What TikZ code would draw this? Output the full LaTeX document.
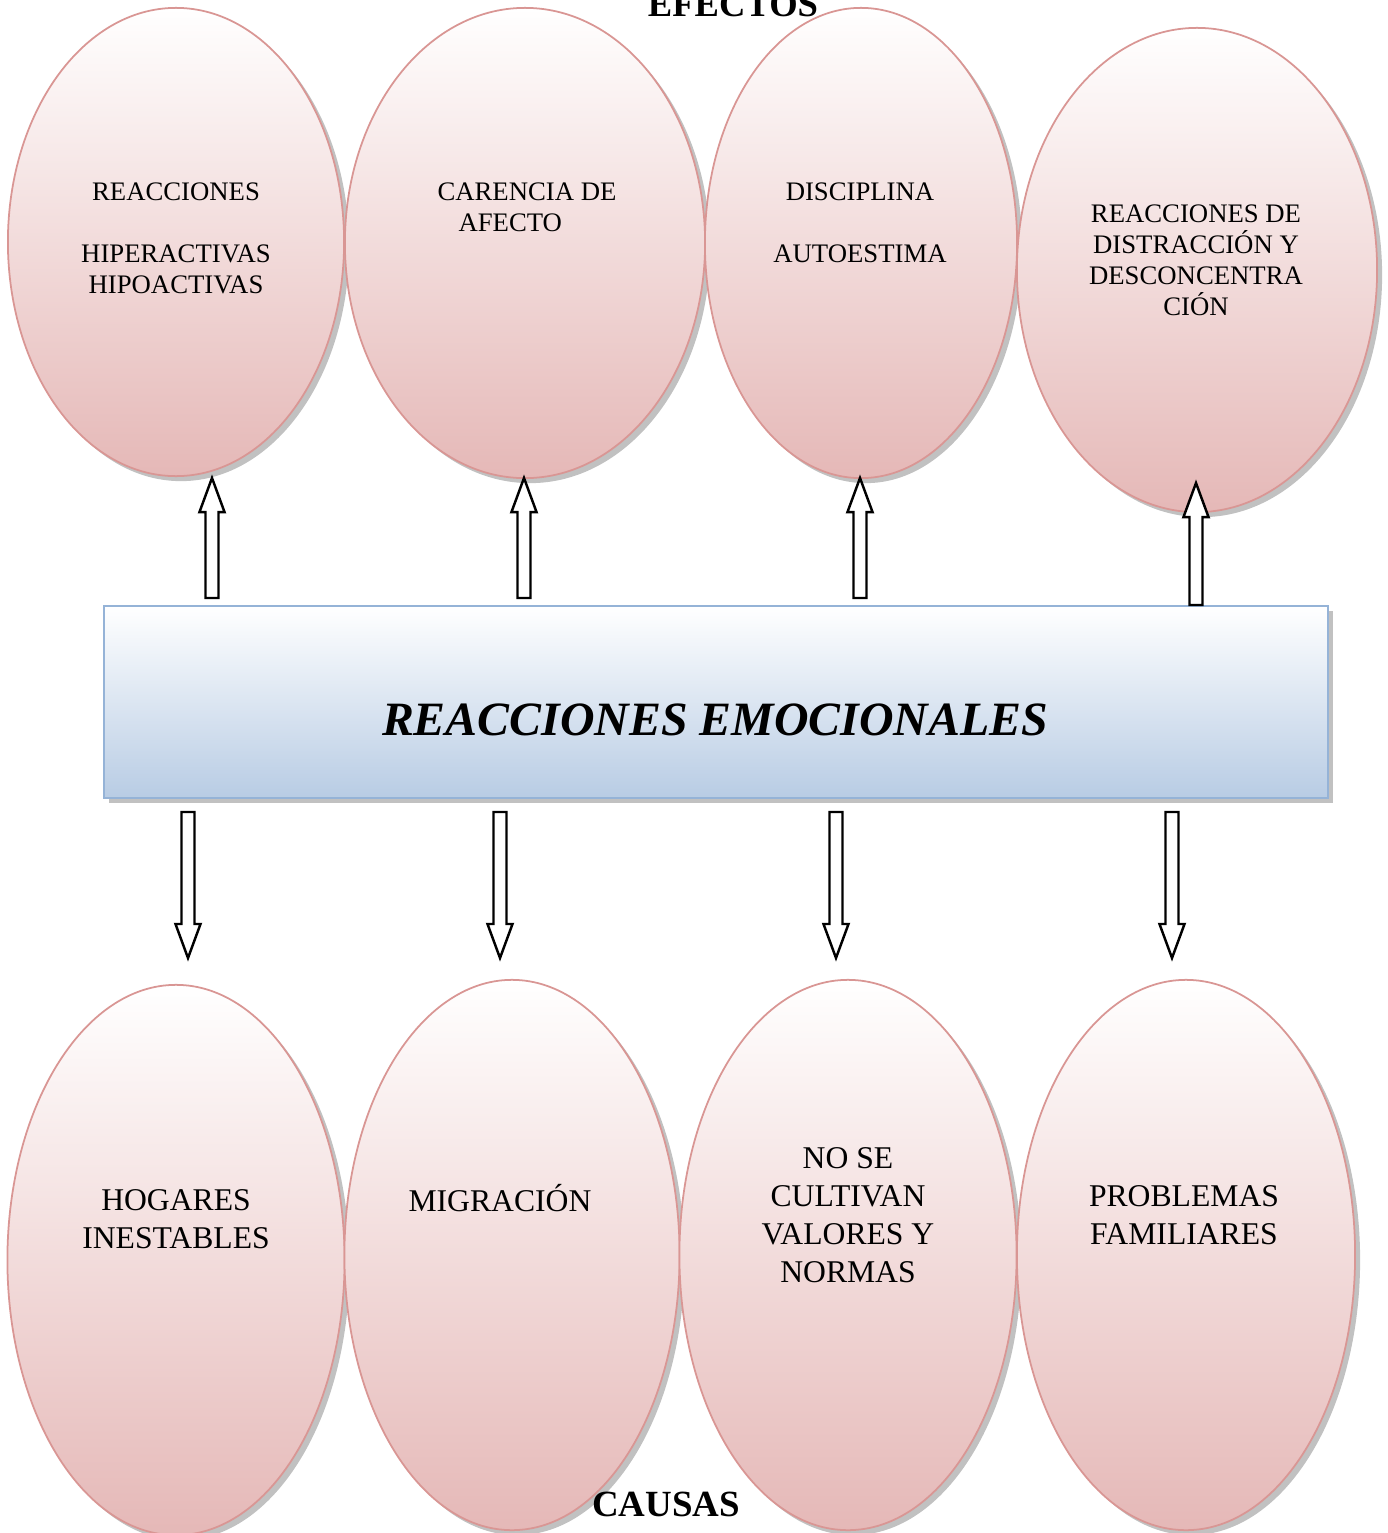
\documentclass[tikz,border=0pt]{standalone}
\usepackage{fontspec}
\setmainfont{Liberation Serif}
\usetikzlibrary{shapes.geometric,shadows,calc}
\definecolor{ellline}{HTML}{D99694}
\definecolor{ellbot}{HTML}{E5B8B7}
\definecolor{boxline}{HTML}{95B3D7}
\definecolor{boxbot}{HTML}{B8CCE4}
\tikzset{
  ell/.style={ellipse,draw=ellline,line width=0.5pt,top color=white,bottom color=ellbot,
    drop shadow={shadow xshift=0.5mm,shadow yshift=-0.5mm,fill=gray!70,opacity=0.7}},
  emobox/.style={rectangle,draw=boxline,line width=0.6pt,top color=white,bottom color=boxbot,
    drop shadow={shadow xshift=0.5mm,shadow yshift=-0.5mm,fill=gray!70,opacity=0.7}},
  toptext/.style={align=center,inner sep=0pt,font=\fontsize{7.6}{8.8}\selectfont},
  bottext/.style={align=center,inner sep=0pt,font=\fontsize{9}{10.8}\selectfont},
  blockarrow/.style={draw,fill=white,line width=0.7pt,to path={
    let \p1=(\tikztostart), \p2=(\tikztotarget), \n1={sign(\y2-\y1)} in
    (\x1-0.065cm,\y1) -- (\x1-0.065cm,\y2-\n1*0.34cm) -- (\x1-0.125cm,\y2-\n1*0.34cm) -- (\x2,\y2)
    -- (\x1+0.125cm,\y2-\n1*0.34cm) -- (\x1+0.065cm,\y2-\n1*0.34cm) -- (\x1+0.065cm,\y1) -- cycle}}
}
\begin{document}
\begin{tikzpicture}[x=0.01cm,y=-0.01cm]
\useasboundingbox (0,0) rectangle (1388,1533);
%efectos
\node[ell,minimum width=3.36cm,minimum height=4.68cm] (e1) at (176,242) {};
\node[ell,minimum width=3.6cm,minimum height=4.7cm] (e2) at (525,243) {};
\node[ell,minimum width=3.12cm,minimum height=4.7cm] (e3) at (861,243) {};
\node[ell,minimum width=3.6cm,minimum height=4.84cm] (e4) at (1197,270) {};
%causas
\node[ell,minimum width=3.37cm,minimum height=5.5cm] (c1) at (176,1260) {};
\node[ell,minimum width=3.35cm,minimum height=5.5cm] (c2) at (512,1255) {};
\node[ell,minimum width=3.37cm,minimum height=5.5cm] (c3) at (848,1255) {};
\node[ell,minimum width=3.38cm,minimum height=5.5cm] (c4) at (1186,1255) {};
%problema central
\node[emobox,minimum width=12.24cm,minimum height=1.92cm] (emo) at (716,702) {};
\node[font=\fontsize{13.6}{16}\selectfont\bfseries\itshape] (emotext) at (715,720) {REACCIONES EMOCIONALES};
%arrows
\foreach \i/\px/\a/\b in {1/212/598/478,2/524/598/478,3/860/598/478,4/1196/605/483}
  \draw[blockarrow] (\px,\a) coordinate (us\i) to (\px,\b) coordinate (ut\i);
\foreach \i/\px in {1/188,2/500,3/836,4/1172}
  \draw[blockarrow] (\px,812) coordinate (ds\i) to (\px,958) coordinate (dt\i);
%labels
\node[toptext] (t1) at (176,238) {REACCIONES\\[8.8pt]HIPERACTIVAS\\HIPOACTIVAS};
\node[toptext] (t2) at (527,207) {CARENCIA DE\\AFECTO\hspace*{1.25em}};
\node[toptext] (t3) at (860,223) {DISCIPLINA\\[8.8pt]AUTOESTIMA};
\node[toptext] (t4) at (1196,260) {REACCIONES DE\\DISTRACCI\'ON Y\\DESCONCENTRA\\CI\'ON};
\node[bottext] (b1) at (176,1219) {HOGARES\\INESTABLES};
\node[bottext] (b2) at (500,1198) {MIGRACI\'ON};
\node[bottext] (b3) at (848,1215) {NO SE\\CULTIVAN\\VALORES Y\\NORMAS};
\node[bottext] (b4) at (1184,1215) {PROBLEMAS\\FAMILIARES};
\node[font=\fontsize{10.4}{12}\selectfont\bfseries,anchor=base] (efectos) at (733,17) {EFECTOS};
\node[font=\fontsize{10.5}{12}\selectfont\bfseries,anchor=base] (causas) at (666,1516) {CAUSAS};
\end{tikzpicture}
\end{document}
